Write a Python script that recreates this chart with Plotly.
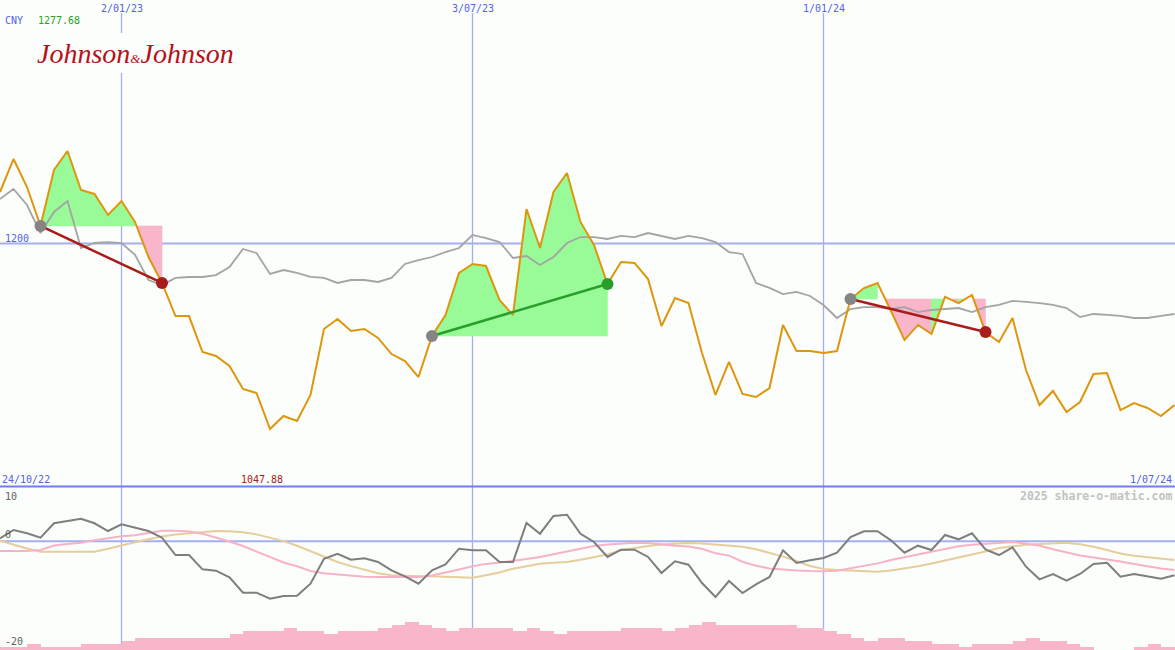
import plotly.graph_objects as go

# ---------------- data ----------------
weeks = list(range(88))  # weekly points, 24/10/22 .. 1/07/24

price = [1242.3, 1269.4, 1246.4, 1214.4, 1260.4, 1276.0, 1243.9, 1240.7, 1223.4, 1234.9,
         1217.7, 1188.9, 1167.6, 1140.4, 1140.4, 1110.9, 1107.6, 1099.4, 1080.5, 1077.2,
         1047.6, 1058.3, 1054.2, 1075.6, 1129.8, 1138.0, 1128.1, 1129.8, 1122.4, 1109.2,
         1103.5, 1090.3, 1124.0, 1141.3, 1175.8, 1183.2, 1181.5, 1153.6, 1141.3, 1228.3,
         1196.3, 1242.3, 1257.9, 1217.7, 1198.8, 1166.7, 1184.8, 1184.0, 1170.8, 1132.2,
         1155.2, 1151.1, 1110.1, 1075.6, 1102.7, 1076.4, 1073.9, 1081.3, 1133.1, 1111.7,
         1111.7, 1110.1, 1111.7, 1154.4, 1163.4, 1167.6, 1144.6, 1120.7, 1133.1, 1125.7,
         1156.1, 1151.1, 1157.7, 1127.3, 1119.1, 1138.8, 1096.1, 1067.3, 1078.9, 1061.6,
         1069.8, 1092.8, 1093.6, 1063.2, 1069.0, 1064.9, 1058.3, 1067.3]

benchmark = [1236.5, 1244.8, 1231.6, 1208.6, 1225.9, 1234.9, 1196.3, 1200.4, 1201.2, 1200.4,
             1190.6, 1170.0, 1165.9, 1171.7, 1172.5, 1172.5, 1174.1, 1180.7, 1195.5, 1192.2,
             1175.0, 1178.2, 1175.8, 1172.5, 1171.7, 1167.6, 1170.0, 1170.0, 1168.4, 1171.7,
             1183.2, 1186.4, 1188.9, 1193.0, 1196.3, 1207.0, 1204.5, 1201.2, 1188.1, 1189.7,
             1182.3, 1188.9, 1200.4, 1205.3, 1205.3, 1203.7, 1206.2, 1205.3, 1208.6, 1206.2,
             1203.7, 1206.2, 1204.5, 1201.2, 1193.0, 1191.4, 1167.6, 1163.5, 1158.5, 1160.2,
             1156.9, 1149.5, 1138.8, 1146.2, 1147.8, 1147.8, 1146.2, 1147.8, 1143.7, 1145.4,
             1146.2, 1147.0, 1143.7, 1147.8, 1149.5, 1152.8, 1152.0, 1151.1, 1149.5, 1147.0,
             1139.6, 1142.1, 1141.3, 1140.5, 1138.8, 1138.8, 1140.5, 1142.1]

# trades: (entry week, exit week)
trades = [(3, 12), (32, 45), (63, 73)]

momentum = [0.55, 2.09, 1.48, 0.67, 3.32, 3.80, 4.17, 3.32, 1.90, 3.13,
            2.58, 1.90, 0.67, -2.52, -2.52, -5.15, -5.40, -6.63, -9.45, -9.45,
            -10.56, -10.06, -10.0, -7.80, -3.20, -2.28, -3.38, -3.12, -3.80, -5.33,
            -6.44, -7.80, -5.33, -4.23, -1.36, -1.65, -1.65, -3.80, -3.80, 3.37,
            1.40, 4.66, 4.90, 1.40, -0.12, -2.88, -1.54, -1.54, -2.88, -5.83,
            -3.67, -4.30, -7.67, -10.25, -7.30, -9.51, -7.91, -6.56, -1.65, -3.99,
            -3.49, -3.07, -2.09, 0.80, 1.85, 1.85, 0.19, -2.09, -0.80, -1.60,
            1.17, 0.37, 1.48, -1.47, -2.52, -1.10, -4.67, -6.99, -6.01, -7.25,
            -6.01, -4.17, -3.93, -6.51, -6.01, -6.38, -6.88, -6.25]

avg_fast = [-1.78, -1.78, -1.78, -1.60, -0.77, -0.49, -0.25, 0.19, 0.61, 0.93,
            1.13, 1.53, 1.96, 1.96, 1.81, 1.39, 0.74, -0.03, -0.86, -1.83,
            -2.88, -3.90, -4.58, -5.46, -5.88, -6.14, -6.38, -6.53, -6.56, -6.56,
            -6.56, -6.56, -6.29, -5.77, -5.18, -4.58, -4.15, -3.91, -3.62, -3.25,
            -2.88, -2.37, -1.83, -1.34, -0.86, -0.60, -0.40, -0.25, -0.31, -0.60,
            -0.80, -0.95, -1.36, -2.18, -2.63, -3.75, -4.48, -4.98, -5.22, -5.37,
            -5.48, -5.52, -5.41, -4.98, -4.54, -4.06, -3.44, -2.96, -2.46, -1.93,
            -1.41, -0.91, -0.64, -0.45, -0.36, -0.12, -0.40, -0.82, -1.47, -2.09,
            -2.59, -2.96, -3.29, -3.71, -4.17, -4.63, -4.98, -5.28]

avg_slow = [0.12, -0.62, -1.32, -1.91, -1.91, -1.91, -1.91, -1.91, -1.37, -0.71,
            -0.16, 0.37, 0.91, 1.24, 1.50, 1.70, 1.90, 1.86, 1.68, 1.28,
            0.71, 0.04, -0.82, -1.83, -2.85, -3.80, -4.56, -5.24, -5.87, -6.25,
            -6.38, -6.42, -6.44, -6.53, -6.62, -6.69, -6.25, -5.72, -5.04, -4.58,
            -4.12, -3.95, -3.80, -3.38, -2.90, -2.42, -1.63, -1.21, -0.86, -0.60,
            -0.42, -0.31, -0.40, -0.62, -0.88, -1.01, -1.45, -2.09, -2.81, -3.62,
            -4.54, -5.07, -5.28, -5.35, -5.53, -5.61, -5.37, -5.02, -4.60, -4.08,
            -3.55, -2.99, -2.50, -1.89, -1.23, -0.86, -0.62, -0.49, -0.38, -0.25,
            -0.53, -0.99, -1.60, -2.22, -2.66, -2.96, -3.21, -3.44]

volume = [1, 1, 2, 1, 1, 1, 2, 2, 2, 3,
          4, 4, 4, 4, 4, 4, 4, 5, 6, 6,
          6, 7, 6, 6, 5, 6, 6, 6, 7, 8,
          9, 8, 7, 6, 7, 7, 7, 7, 6, 7,
          6, 5, 6, 6, 6, 6, 7, 7, 7, 6,
          7, 8, 9, 8, 8, 8, 8, 8, 8, 7,
          7, 6, 5, 4, 3, 4, 4, 3, 3, 2,
          2, 1, 2, 2, 2, 3, 4, 3, 3, 2,
          1, 0, 0, 0, 1, 2, 1, 1]

month_ticks = [9, 35, 61]
month_labels = ["2/01/23", "3/07/23", "1/01/24"]
start_label, end_label = "24/10/22", "1/07/24"
currency = "CNY"
high_label, low_label = "1277.68", "1047.88"
price_gridline = 1200

# ---------------- style ----------------
W, H = 1175, 650
BG = "#fbfefa"
ORANGE = "#de960e"
GREY_MAIN = "#a4a4a4"
GREEN_FILL = "#98fb98"
PINK_FILL = "#f9b5c9"
RED = "#a81c1c"
GREEN = "#2a9e2a"
GRID = "#a4aef5"
DIVIDER = "#6f7ef0"
BLUE_TXT = "#5262ee"
MONO = "DejaVu Sans Mono"
SPLIT = 163 / H
VOL_UNIT = 0.573
XMAX = W / 13.5


def py(pix):
    return 1 - pix / H


def px(pix):
    return pix / W


fig = go.Figure()

# profit / loss fills
for a, b in trades:
    L = price[a]
    for i in range(a, b):
        x0, x1 = weeks[i], weeks[i + 1]
        y0, y1 = price[i], price[i + 1]
        col = GREEN_FILL if y1 >= L else PINK_FILL
        if (y0 - L) * (y1 - L) < 0:
            t = (L - y0) / (y1 - y0)
            xc = x0 + t * (x1 - x0)
            if y0 > L:
                xs, ys = [xc, x1, x1, xc], [L, y1, L, L]
            else:
                xs, ys = [x0, x0, xc, x0], [L, y0, L, L]
        else:
            xs, ys = [x0, x0, x1, x1, x0], [L, y0, y1, L, L]
        fig.add_trace(go.Scatter(x=xs, y=ys, fill="toself", fillcolor=col, mode="lines",
                                 line=dict(color=col, width=0.6), hoverinfo="skip",
                                 showlegend=False, xaxis="x", yaxis="y"))

fig.add_trace(go.Scatter(x=weeks, y=benchmark, mode="lines",
                         line=dict(color=GREY_MAIN, width=1.8), showlegend=False,
                         xaxis="x", yaxis="y"))
fig.add_trace(go.Scatter(x=weeks, y=price, mode="lines",
                         line=dict(color=ORANGE, width=2), showlegend=False,
                         xaxis="x", yaxis="y"))

for a, b in trades:
    col = GREEN if price[b] > price[a] else RED
    fig.add_trace(go.Scatter(x=[weeks[a], weeks[b]], y=[price[a], price[b]], mode="lines",
                             line=dict(color=col, width=2.5), showlegend=False,
                             xaxis="x", yaxis="y"))
    fig.add_trace(go.Scatter(x=[weeks[a]], y=[price[a]], mode="markers",
                             marker=dict(color="#858585", size=12, line=dict(width=0)),
                             showlegend=False, xaxis="x", yaxis="y"))
    fig.add_trace(go.Scatter(x=[weeks[b]], y=[price[b]], mode="markers",
                             marker=dict(color=col, size=12, line=dict(width=0)),
                             showlegend=False, xaxis="x", yaxis="y"))

# lower panel
fig.add_trace(go.Bar(x=[w + 0.5 for w in weeks], y=[v * VOL_UNIT for v in volume], base=-20,
                     width=1, marker=dict(color=PINK_FILL, line=dict(width=0)),
                     showlegend=False, xaxis="x2", yaxis="y2"))
fig.add_trace(go.Scatter(x=weeks, y=avg_slow, mode="lines", line=dict(color="#e6cd9c", width=2),
                         showlegend=False, xaxis="x2", yaxis="y2"))
fig.add_trace(go.Scatter(x=weeks, y=avg_fast, mode="lines", line=dict(color="#f8b2c6", width=2),
                         showlegend=False, xaxis="x2", yaxis="y2"))
fig.add_trace(go.Scatter(x=weeks, y=momentum, mode="lines", line=dict(color="#7e7e7e", width=2),
                         showlegend=False, xaxis="x2", yaxis="y2"))

shapes = []
for m in month_ticks:
    shapes.append(dict(type="line", xref="x", yref="paper", x0=m, x1=m, y0=0, y1=py(13),
                       line=dict(color=GRID, width=1.3), layer="below"))
shapes.append(dict(type="line", xref="paper", yref="y", x0=0, x1=1, y0=price_gridline,
                   y1=price_gridline, line=dict(color=GRID, width=2), layer="below"))
shapes.append(dict(type="line", xref="paper", yref="y2", x0=0, x1=1, y0=0, y1=0,
                   line=dict(color=GRID, width=2), layer="below"))
shapes.append(dict(type="line", xref="paper", yref="paper", x0=0, x1=1, y0=py(486.5),
                   y1=py(486.5), line=dict(color=DIVIDER, width=2), layer="below"))
# logo backdrop
shapes.append(dict(type="rect", xref="paper", yref="paper", x0=px(33), x1=px(238),
                   y0=py(73), y1=py(33), fillcolor=BG, line=dict(width=0), layer="below"))

ann = []


def txt(text, x, y, color, xanchor="left", xref="paper", yref="paper", size=10, bold=False,
        family=MONO):
    if bold:
        text = "<b>" + text + "</b>"
    ann.append(dict(text=text, x=x, y=y, xref=xref, yref=yref, xanchor=xanchor,
                    yanchor="middle", showarrow=False,
                    font=dict(family=family, size=size, color=color), borderpad=0))


for m, lab in zip(month_ticks, month_labels):
    txt(lab, m, py(9), BLUE_TXT, xanchor="center", xref="x")
txt(currency, px(4), py(20), BLUE_TXT)
txt(high_label, px(37), py(20), "#2a9e2a")
txt(str(price_gridline), px(4), py(238), BLUE_TXT)
txt(start_label, px(1), py(479), BLUE_TXT)
txt(low_label, px(240), py(479), "#a81c1c")
txt(end_label, px(1173), py(479), BLUE_TXT, xanchor="right")
txt("10", px(4), py(496), "#606060")
txt("0", px(4), py(534), "#606060")
txt("-20", px(4), py(641), "#606060")
txt("2025 share-o-matic.com", px(1173), py(496), "#c2c2c2", xanchor="right", size=11.5,
    bold=True)
ann.append(dict(text="<i>Johnson</i><span style='font-size:13px'><i>&</i></span><i>Johnson</i>",
                x=px(135), y=py(53), xref="paper", yref="paper", xanchor="center",
                yanchor="middle", showarrow=False,
                font=dict(family="Liberation Serif", size=28, color="#b5121c")))

fig.update_layout(
    width=W, height=H, autosize=False,
    margin=dict(l=0, r=0, t=0, b=0, pad=0),
    paper_bgcolor=BG, plot_bgcolor=BG,
    showlegend=False, bargap=0,
    xaxis=dict(domain=[0, 1], range=[0, XMAX], visible=False, anchor="y", fixedrange=True),
    xaxis2=dict(domain=[0, 1], range=[0, XMAX], visible=False, anchor="y2", matches="x"),
    yaxis=dict(domain=[SPLIT, 1], range=[1000, 1400], visible=False, fixedrange=True),
    yaxis2=dict(domain=[0, SPLIT], range=[-20, 10], visible=False, fixedrange=True),
    shapes=shapes, annotations=ann,
)

fig.write_html("out.html", config={"displayModeBar": False},
               post_script="document.body.style.margin='0';document.body.style.background='" + BG + "';")
